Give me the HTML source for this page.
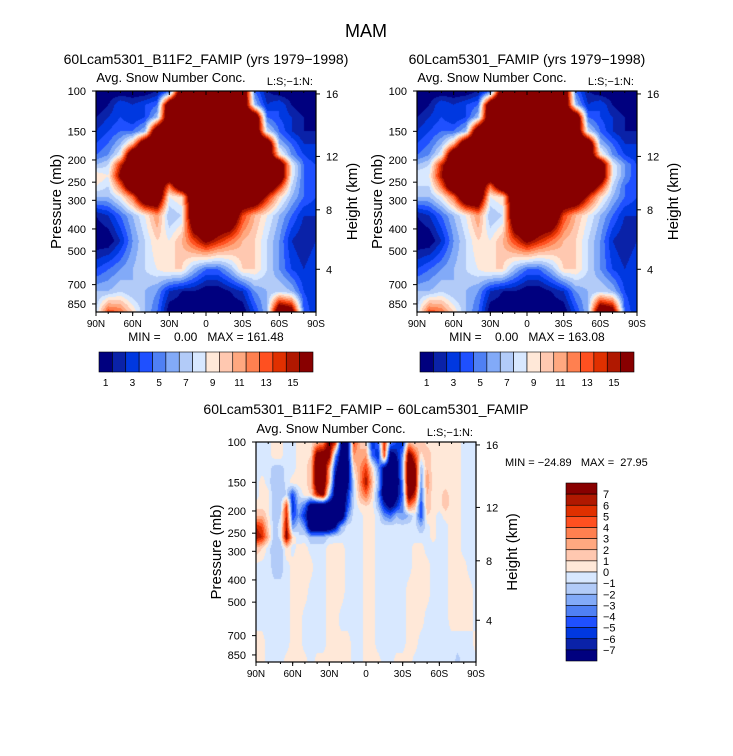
<!DOCTYPE html>
<html><head><meta charset="utf-8">
<style>
body{margin:0;background:#fff;}
#root{position:relative;width:733px;height:756px;overflow:hidden;background:#fff;font-family:"Liberation Sans",sans-serif;}
text{white-space:pre;}
</style></head>
<body>
<div id="root">
<svg id="svg" width="733" height="756" style="position:absolute;left:0;top:0"></svg>
</div>
<script>
// ---- data ----
const levels = [100,115,130,150,170,190,210,235,260,290,350,450,600,750,925];
const latLabels = ["90N","60N","30N","0","30S","60S","90S"];
const pressureTicks = [100,150,200,250,300,400,500,700,850];
const heightTicks = [16,12,8,4];
const heightTickPressure = [103,193,330,600];
const topBarLabels = ["1","3","5","7","9","11","13","15"];
const diffBarLabels = ["7","6","5","4","3","2","1","0","\u22121","\u22122","\u22123","\u22124","\u22125","\u22126","\u22127"];
const fieldB11F2 = [
[0,0,0,0,0,1,3,20,20,20,20,20,20,4,1,0,0,0,0],
[0,1,3,2,3,4,20,20,20,20,20,20,20,6,2,3,1,0,0],
[1,2,3,2,3,6,20,20,20,20,20,20,20,20,4,3,2,1,0],
[2,3,4,4,6,20,20,20,20,20,20,20,20,20,7,4,2,1,1],
[3,4,6,10,20,20,20,20,20,20,20,20,20,20,20,6,4,2,2],
[4,5,8,20,20,20,20,20,20,20,20,20,20,20,20,9,5,3,2],
[6,7,14,20,20,20,20,20,20,20,20,20,20,20,20,20,8,4,3],
[9,8,16,20,20,20,20,20,20,20,20,20,20,20,20,20,8,4,3],
[8,7,12,20,20,20,12,20,20,20,20,20,20,20,20,14,7,4,3],
[6,6,8,12,20,20,8,9,20,20,20,20,20,20,14,9,6,4,3],
[1,2,4,6,8,11,6,7,20,20,20,20,13,10,8,6,4,2,2],
[0,0,2,5,7,9,8,10,13,16,14,12,10,9,7,5,2,1,2],
[3,4,5,6,7,8,9,9,6,4,4,6,9,9,7,5,3,2,3],
[6,6,7,6,6,5,2,1,1,0,0,1,2,5,6,7,6,3,2],
[7,13,12,9,6,4,0,0,0,0,0,0,0,3,6,20,18,4,2]];
const fieldFAMIP = [
[0,0,0,0,0,1,3,20,20,20,20,20,20,4,1,0,0,0,0],
[0,1,3,2,3,4,20,20,20,20,20,20,20,6,2,3,1,0,0],
[1,2,3,2,3,6,20,20,20,20,20,20,20,20,4,3,2,1,0],
[2,3,4,4,6,20,20,20,20,20,20,20,20,20,7,4,2,1,1],
[3,4,6,10,20,20,20,20,20,20,20,20,20,20,20,6,4,2,2],
[4,5,8,20,20,20,20,20,20,20,20,20,20,20,20,9,5,3,2],
[6,7,14,20,20,20,20,20,20,20,20,20,20,20,20,20,8,5,3],
[8,8,15,20,20,20,20,20,20,20,20,20,20,20,20,20,8,5,3],
[7,7,12,20,20,20,12,20,20,20,20,20,20,20,20,14,7,4,3],
[6,6,8,12,20,20,8,9,20,20,20,20,20,20,14,9,6,4,3],
[1,2,4,6,8,11,6,7,20,20,20,20,13,10,8,6,4,2,2],
[0,0,2,5,7,9,8,10,13,16,14,12,10,9,7,5,2,1,2],
[3,4,5,6,7,8,9,9,6,4,4,6,9,9,7,5,3,2,3],
[6,6,7,6,6,5,2,1,1,0,0,1,2,5,6,7,6,3,2],
[7,13,12,9,6,4,0,0,0,0,0,0,0,3,6,20,18,4,2]];
const P=0.5, B=-0.5;
const fieldDiff = [
[B,B,B,P,P,B,B,P,P,P,2,3,9,6,-8,-8,5,2,1,-6,-4,6,-3,-5,-6,2,P,2,P,P,P,P,P,P,B,B,B],
[B,B,B,P,P,-1,B,P,P,1,9,9,8,-3,-9,-8,3,2,3,-4,-6,5,-9,-7,-3,9,5,P,2,P,P,P,P,P,B,B,B],
[B,B,B,-1.5,-1.5,B,B,P,P,2,10,10,3,-6,-10,-9,1,3,5,1,-3,-8,-10,-9,-2,10,8,-2,2,P,P,P,P,P,B,B,B],
[B,P,B,-2,-2,B,P,P,P,2,10,10,2,-8,-10,-8,-1,3,7,2,-2,-9,-10,-9,-3,10,9,-3,3,P,P,P,P,P,B,B,B],
[B,P,P,-2,-2,-1,-5,-1,P,1,6,8,-2,-9,-10,-6,-1,2,4,1,-3,-9,-10,-8,-4,9,6,-4,2,P,P,1.5,P,P,B,B,B],
[P,P,P,-2,-1.5,5,-6,-2,-4,-9,-10,-10,-10,-10,-10,-5,-1,P,1,P,-2,-6,-8,-6,-3,4,2,-5,2,P,P,1.5,P,P,B,B,B],
[2,2,P,-2,-1,6,-5,-3,-6,-10,-10,-10,-10,-10,-10,-3,B,B,P,P,B,-3,-4,-2,-3,-2,B,-5,1,P,B,P,P,P,B,B,B],
[6,5,1,-1.5,B,7,-3,-1,-3,-10,-10,-10,-10,-7,-2,B,B,B,P,P,B,B,B,B,B,B,B,-2,B,P,B,B,P,P,B,B,B],
[7,6,2,-2,B,8,1,-1,B,-2,-2,-2,-1,B,B,B,B,B,P,P,B,B,B,B,B,B,B,B,B,P,B,B,P,P,B,B,B],
[2,1,B,-2,-2,1,B,P,P,B,B,B,P,P,P,B,B,B,P,P,B,B,B,B,B,B,P,P,B,B,B,B,P,P,B,B,B],
[B,B,B,-1.5,-1.5,B,P,P,P,P,-1,B,P,P,P,B,B,B,P,P,B,B,B,B,B,B,P,P,P,B,B,B,P,P,P,B,B],
[B,B,B,B,B,B,P,P,P,B,B,B,P,P,P,B,B,B,P,P,B,B,B,B,B,P,P,P,P,B,B,B,P,P,P,P,B],
[B,B,B,B,B,B,P,P,B,B,B,B,P,P,B,B,B,B,P,P,B,B,B,B,B,P,P,P,B,B,B,B,P,P,P,P,B],
[P,P,B,B,B,B,P,P,B,B,B,B,P,P,P,P,B,B,P,P,B,B,B,B,B,P,P,B,B,B,B,B,B,B,B,B,P],
[P,P,B,B,B,P,P,P,P,B,P,P,P,P,P,P,B,B,P,P,P,B,B,P,P,P,B,B,B,-1,B,B,B,-1.5,B,B,B]];

const palette = ["#00007f","#0a22a8","#0038e0","#1f50ff","#4f80f4","#82aaf8","#b2cbf8","#d8e8ff","#ffe8d8","#ffc8b0","#ffa880","#ff8050","#ff5020","#e03000","#b01800","#880000"];

const NS="http://www.w3.org/2000/svg";
const svg=document.getElementById('svg');
function el(tag,attrs,parent){const e=document.createElementNS(NS,tag);for(const k in attrs)e.setAttribute(k,attrs[k]);(parent||svg).appendChild(e);return e;}
function txt(x,y,s,size,anchor,name,extra){const t=el('text',Object.assign({x:x,y:y,'font-size':size,'text-anchor':anchor||'middle','font-family':'Liberation Sans, sans-serif',fill:'#000'},extra||{}));t.textContent=s;return t;}

const K=99.5;
function yOfP(top,p){return top+K*Math.log(p/100);}

function interp(field,fc,fr){
  const nr=field.length,nc=field[0].length;
  let c0=Math.max(0,Math.min(nc-2,Math.floor(fc))),r0=Math.max(0,Math.min(nr-2,Math.floor(fr)));
  let tc=Math.max(0,Math.min(1,fc-c0)),tr=Math.max(0,Math.min(1,fr-r0));
  const a=field[r0][c0],b=field[r0][c0+1],c=field[r0+1][c0],d=field[r0+1][c0+1];
  return (a*(1-tc)+b*tc)*(1-tr)+(c*(1-tc)+d*tc)*tr;
}
function rowFrac(p){
  const lp=Math.log(p);
  for(let i=0;i<levels.length-1;i++){const a=Math.log(levels[i]),b=Math.log(levels[i+1]);if(lp<=b||i==levels.length-2)return i+(lp-a)/(b-a);}
}
function hex(h){return [parseInt(h.substr(1,2),16),parseInt(h.substr(3,2),16),parseInt(h.substr(5,2),16)];}
const palRGB=palette.map(hex);

function drawField(field,left,top,w,h,idxFn,name){
  const cv=document.createElement('canvas');cv.width=w;cv.height=h;
  cv.style.cssText=`position:absolute;left:${left}px;top:${top}px;`;
  
  
  document.getElementById('root').insertBefore(cv,svg);
  const ctx=cv.getContext('2d');const img=ctx.createImageData(w,h);
  const nc=field[0].length;
  for(let y=0;y<h;y++){
    const p=100*Math.exp((y+0.5)/K);const fr=rowFrac(p);
    for(let x=0;x<w;x++){
      const fc=(x+0.5)/w*(nc-1);
      const v=interp(field,fc,fr);const col=palRGB[idxFn(v)];
      const o=(y*w+x)*4;img.data[o]=col[0];img.data[o+1]=col[1];img.data[o+2]=col[2];img.data[o+3]=255;
    }
  }
  ctx.putImageData(img,0,0);
}
const topIdx=v=>Math.max(0,Math.min(15,Math.floor(v)));
const diffIdx=v=>Math.max(0,Math.min(15,Math.floor(v)+8));

function axes(left,top,w,h,prefix){
  el('rect',{x:left,y:top,width:w,height:h,fill:'none',stroke:'#000','stroke-width':1.2});
  pressureTicks.forEach(p=>{const y=yOfP(top,p);
    el('line',{x1:left-4,x2:left,y1:y,y2:y,stroke:'#000'});
    txt(left-10,y+4,String(p),11,'end',prefix+'-pressure-tick-'+p);});
  latLabels.forEach((s,i)=>{const x=left+i*w/6;
    el('line',{x1:x,x2:x,y1:top+h,y2:top+h+4,stroke:'#000'});
    el('line',{x1:x,x2:x,y1:top,y2:top+4,stroke:'#000'});
    txt(x,top+h+15,s,10,'middle',prefix+'-lat-tick-'+s);});
  for(let i=0;i<=18;i++){const x=left+i*w/18;el('line',{x1:x,x2:x,y1:top,y2:top+2,stroke:'#000'});el('line',{x1:x,x2:x,y1:top+h,y2:top+h+2,stroke:'#000'});}
  heightTicks.forEach((k,i)=>{const y=yOfP(top,heightTickPressure[i]);
    el('line',{x1:left+w,x2:left+w+4,y1:y,y2:y,stroke:'#000'});
    txt(left+w+10,y+4,String(k),11,'start',prefix+'-height-tick-'+k);});
  const cy=top+h/2;
  const lx=left-40;
  txt(lx,cy+5,'Pressure (mb)',15,'middle',prefix+'-y-axis-title',{transform:`rotate(-90 ${lx} ${cy})`});
  const rx=left+w+36;
  txt(rx,cy+5,'Height (km)',15,'middle',prefix+'-right-axis-title',{transform:`rotate(-90 ${rx} ${cy})`});
  txt(left+75,top-9,'Avg. Snow Number Conc.',13,'middle',prefix+'-subtitle');
  txt(left+w-3,top-6,'L:S;\u22121:N:',11,'end',prefix+'-level-label');
}

txt(366,37,'MAM',18,'middle','main-title');

drawField(fieldB11F2,96,91,220,221,topIdx,'b11f2-field');
axes(96,91,220,221,'b11f2');
txt(206,64,'60Lcam5301_B11F2_FAMIP (yrs 1979\u22121998)',14,'middle','b11f2-title');
txt(206,341,'MIN =    0.00   MAX = 161.48',12,'middle','b11f2-minmax');

drawField(fieldFAMIP,417,91,220,221,topIdx,'famip-field');
axes(417,91,220,221,'famip');
txt(527,64,'60Lcam5301_FAMIP (yrs 1979\u22121998)',14,'middle','famip-title');
txt(527,341,'MIN =    0.00   MAX = 163.08',12,'middle','famip-minmax');

function hbar(left,prefix){
  const bw=214/16;
  palette.forEach((c,i)=>{const r=el('rect',{x:left+i*bw,y:352,width:bw,height:20,fill:c,stroke:'#000','stroke-width':0.6});
    });
  topBarLabels.forEach((s,i)=>txt(left+bw*0.5+i*2*bw,386,s,10,'middle',prefix+'-colorbar-label-'+s));
}
hbar(99,'b11f2');hbar(420,'famip');

drawField(fieldDiff,256,442,220,220,diffIdx,'diff-field');
axes(256,442,220,220,'diff');
txt(366,414,'60Lcam5301_B11F2_FAMIP \u2212 60Lcam5301_FAMIP',14,'middle','diff-title');
txt(505,466,'MIN = \u221224.89   MAX =  27.95',11,'start','diff-minmax');
const vh=178/16;
for(let i=0;i<16;i++){const r=el('rect',{x:566,y:483+i*vh,width:31,height:vh,fill:palette[15-i],stroke:'#000','stroke-width':0.6});
  }
diffBarLabels.forEach((s,i)=>txt(603,483+(i+1)*vh+4,s,11,'start','diff-colorbar-label'));
</script>
</body></html>
